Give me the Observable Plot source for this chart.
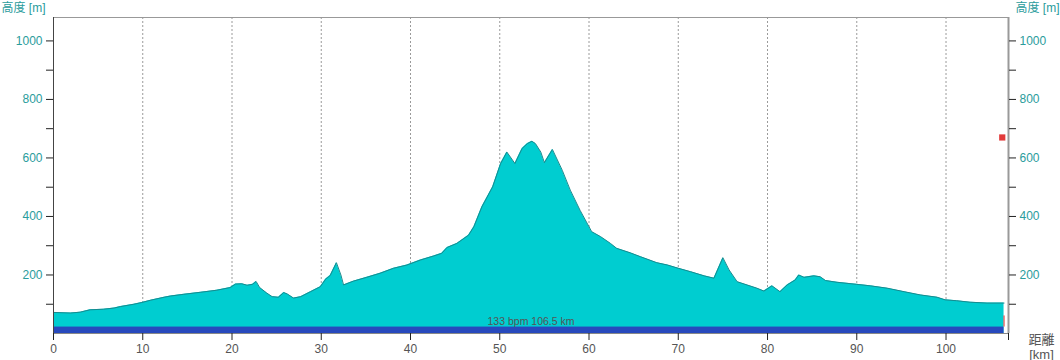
<!DOCTYPE html>
<html><head><meta charset="utf-8">
<script src="https://cdn.jsdelivr.net/npm/d3@7"></script>
<script src="https://cdn.jsdelivr.net/npm/@observablehq/plot@0.6"></script>
<style>body{margin:0;background:#fff}#chart{width:1060px;height:360px}</style>
</head><body><div id="chart"></div>
<script>
const distanceKm = [0,1.9,3.0,4.1,5.6,6.8,7.5,9.0,9.9,10.9,12.4,13.1,14.6,16.5,18.3,19.8,20.4,21.1,21.7,22.3,22.7,23.1,23.9,24.5,25.2,25.8,26.2,26.9,27.7,28.8,29.9,30.5,31.0,31.7,32.2,32.5,33.6,35.1,36.6,38.1,39.6,41.1,42.6,43.5,44.1,45.2,46.5,47.1,48.0,49.2,50.1,50.8,51.7,52.5,53.1,53.6,54.0,54.6,55.0,55.9,57.0,57.9,59.0,60.0,60.3,61.3,62.4,63.1,64.6,65.8,67.6,68.8,70.0,71.4,72.9,74.0,75.0,75.7,76.6,77.7,78.8,79.6,80.5,81.4,82.2,83.1,83.5,84.1,85.2,85.9,86.5,87.8,90.0,91.5,93.4,95.3,97.1,99.0,99.9,101.2,102.7,104.6,106.5];
const elevationM = [72,70,73,81,83,87,92,100,106,114,124,128,134,141,148,157,169,170,165,168,178,157,138,126,124,140,135,121,126,143,160,186,198,242,200,166,179,192,206,223,234,251,265,274,294,308,336,365,433,501,581,620,581,632,649,657,649,620,584,629,558,490,421,365,348,331,308,291,276,262,242,234,223,211,197,189,259,217,177,166,155,145,163,143,166,183,200,192,197,194,181,175,168,163,155,143,132,124,115,112,107,104,104];
const xTicks = [0,10,20,30,40,50,60,70,80,90,100];
const gridKm = [10,20,30,40,50,60,70,80,90,100];
const yTicks = [100,200,300,400,500,600,700,800,900,1000];
const yLabels = [200,400,600,800,1000];
const statusText = ["133 bpm 106.5 km"];
const yTitle = ["高度 [m]"];
const xTitle = ["距離", "[km]"];
const markerKm = [106.3];
const markerElev = [670];
const bandTop = [22];
const endKm = [106.5];
const domainX = [0, 107];
const domainY = [0, 1080];

const profile = distanceKm.map((d, i) => ({km: d, elev: elevationM[i]}));
const band = [{x1: 0, x2: endKm[0], y1: 0, y2: bandTop[0]}];
const marker = markerKm.map((d, i) => ({km: d, elev: markerElev[i]}));
const teal = "#2a9c9c";
const grey = "#555";

const chart = Plot.plot({
  width: 1060, height: 360,
  marginLeft: 53, marginRight: 52, marginTop: 17, marginBottom: 27,
  style: {fontFamily: "'Liberation Sans', 'Noto Sans CJK JP', sans-serif", fontSize: "12px", background: "#fff", overflow: "visible"},
  x: {domain: domainX},
  y: {domain: domainY},
  marks: [
    Plot.ruleX(gridKm, {stroke: "#9a9a9a", strokeDasharray: "2,2"}),
    Plot.areaY(profile, {x: "km", y: "elev", fill: "#00cdd0"}),
    Plot.lineY(profile, {x: "km", y: "elev", stroke: "#178a8e", strokeWidth: 1}),
    Plot.rect(band, {x1: "x1", x2: "x2", y1: "y1", y2: "y2", fill: "#2749bd"}),
    Plot.ruleX(endKm, {y1: bandTop[0], y2: 60, stroke: "#e03030"}),
    Plot.dot(marker, {x: "km", y: "elev", symbol: "square", r: 3.5, fill: "#e23a3a", stroke: null}),
    Plot.ruleY([domainY[1]], {x1: domainX[0], x2: domainX[1], stroke: "#999"}),
    Plot.ruleY([0], {x1: domainX[0], x2: domainX[1], stroke: "#888"}),
    Plot.ruleX([domainX[0]], {stroke: "#444"}),
    Plot.ruleX([domainX[1]], {stroke: "#999", strokeWidth: 2}),
    Plot.axisY(yTicks, {anchor: "left", tickSize: 7, tickPadding: 4, stroke: "#222", fill: teal, tickFormat: d => yLabels.includes(d) ? String(d) : "", label: null}),
    Plot.axisY(yTicks, {anchor: "right", tickSize: 7, tickPadding: 4, stroke: "#222", fill: teal, tickFormat: d => yLabels.includes(d) ? String(d) : "", label: null}),
    Plot.axisX(xTicks, {anchor: "bottom", tickSize: 7, tickPadding: 4, stroke: "#222", fill: grey, tickFormat: d => String(d), label: null}),
    Plot.axisX([domainX[1]], {anchor: "bottom", tickSize: 7, stroke: "#222", tickFormat: () => "", label: null}),
    Plot.text(statusText, {frameAnchor: "bottom", dy: -12, lineAnchor: "middle", fill: grey, fontSize: 10.5}),
    Plot.text(yTitle, {frameAnchor: "top-left", dx: -52, dy: -9, textAnchor: "start", lineAnchor: "middle", fill: teal}),
    Plot.text(yTitle, {frameAnchor: "top-right", dx: 51, dy: -9, textAnchor: "end", lineAnchor: "middle", fill: teal}),
    Plot.text([xTitle[0]], {frameAnchor: "bottom-right", dx: 33, dy: 6, textAnchor: "middle", lineAnchor: "middle", fill: grey, fontSize: 13}),
    Plot.text([xTitle[1]], {frameAnchor: "bottom-right", dx: 33, dy: 21, textAnchor: "middle", lineAnchor: "middle", fill: grey, fontSize: 13})
  ]
});
document.getElementById("chart").appendChild(chart);
</script></body></html>
